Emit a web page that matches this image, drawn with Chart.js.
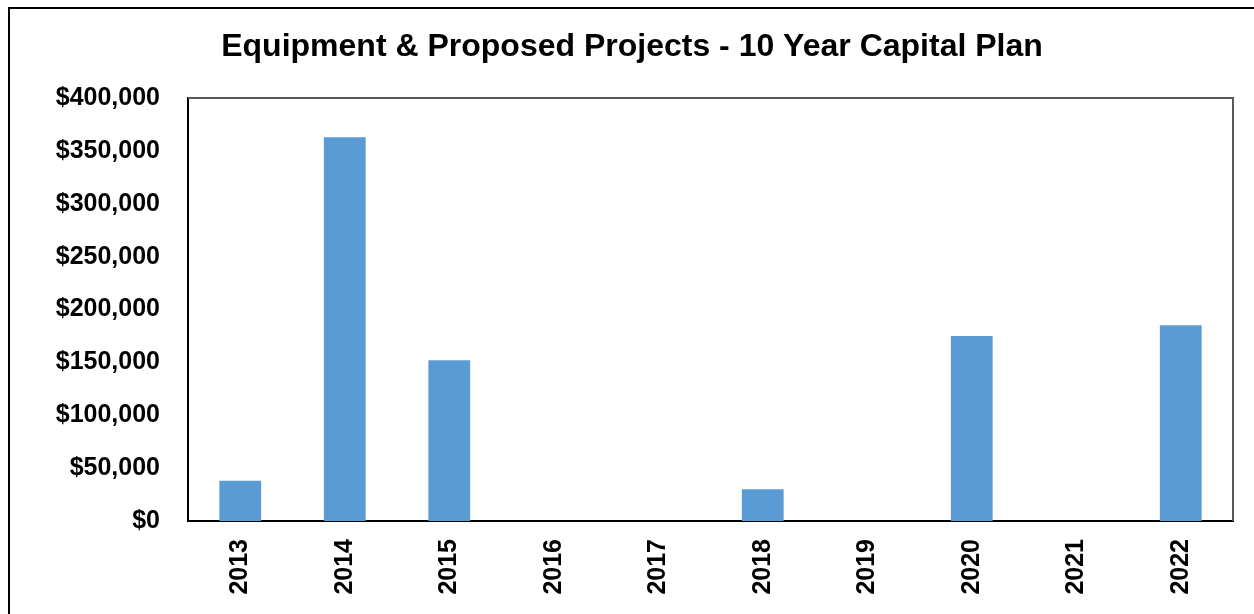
<!DOCTYPE html>
<html>
<head>
<meta charset="utf-8">
<script src="https://cdn.jsdelivr.net/npm/chart.js@4/dist/chart.umd.min.js"></script>
<style>
  html, body { margin: 0; padding: 0; background: #fff; overflow: hidden; }
  #frame {
    position: absolute; left: 8px; top: 7px;
    width: 1400px; height: 800px;
    border: 2px solid #000;
  }
  #wrap { position: absolute; left: 0; top: 0; width: 1254px; height: 614px; }
</style>
</head>
<body>
<div id="frame"></div>
<div id="wrap"><canvas id="capital" width="1254" height="614"></canvas></div>
<script>
const years = ["2013", "2014", "2015", "2016", "2017", "2018", "2019", "2020", "2021", "2022"];
const spending = [38000, 363000, 152000, 0, 0, 30000, 0, 175000, 0, 185000];
const yMin = 0;
const yMax = 400000;
const yStep = 50000;

const FONT = "'Liberation Sans', Arial, sans-serif";

// top and right edges of the plot box are lighter than the axes
const plotBox = {
    id: "plotBox",
    afterDraw(chart) {
        const { ctx, chartArea: a } = chart;
        ctx.save();
        ctx.strokeStyle = "#595959";
        ctx.lineWidth = 2;
        ctx.beginPath();
        ctx.moveTo(a.left, a.top);
        ctx.lineTo(a.right, a.top);
        ctx.lineTo(a.right, a.bottom);
        ctx.stroke();
        ctx.restore();
    },
};

const ctx = document.getElementById("capital").getContext("2d");

new Chart(ctx, {
    type: "bar",
    data: {
        labels: years,
        datasets: [
            {
                label: "Capital Plan",
                data: spending,
                backgroundColor: "#5b9bd5",
                borderWidth: 0,
                barPercentage: 0.4,
                categoryPercentage: 1.0,
            },
        ],
    },
    plugins: [plotBox],
    options: {
        responsive: false,
        animation: false,
        layout: {
            padding: { left: 10, right: 0, top: 0, bottom: 0 },
        },
        plugins: {
            legend: { display: false },
            tooltip: { enabled: false },
            title: {
                display: true,
                text: "Equipment & Proposed Projects - 10 Year Capital Plan",
                color: "#000",
                font: { family: FONT, size: 32, weight: "bold", lineHeight: 1.2 },
                padding: { top: 28, bottom: 31.6 },
            },
        },
        scales: {
            x: {
                grid: { display: false, drawTicks: false },
                border: { color: "#000", width: 2 },
                ticks: {
                    color: "#000",
                    font: { family: FONT, size: 25, weight: "bold" },
                    minRotation: 90,
                    maxRotation: 90,
                    padding: 18,
                },
                afterFit(scale) {
                    scale.height = 93;
                },
            },
            y: {
                min: yMin,
                max: yMax,
                grid: { display: false, drawTicks: false },
                border: { color: "#000", width: 2 },
                ticks: {
                    stepSize: yStep,
                    color: "#000",
                    font: { family: FONT, size: 25, weight: "bold" },
                    padding: 28,
                    callback: (v) => "$" + v.toLocaleString("en-US"),
                },
                afterFit(scale) {
                    scale.width = 178;
                },
            },
            // empty strip on the right so the plot stops short of the edge
            gap: {
                position: "right",
                grid: { display: false, drawTicks: false },
                border: { display: false },
                ticks: { display: false },
                afterFit(scale) {
                    scale.width = 21;
                },
            },
        },
    },
});
</script>
</body>
</html>
